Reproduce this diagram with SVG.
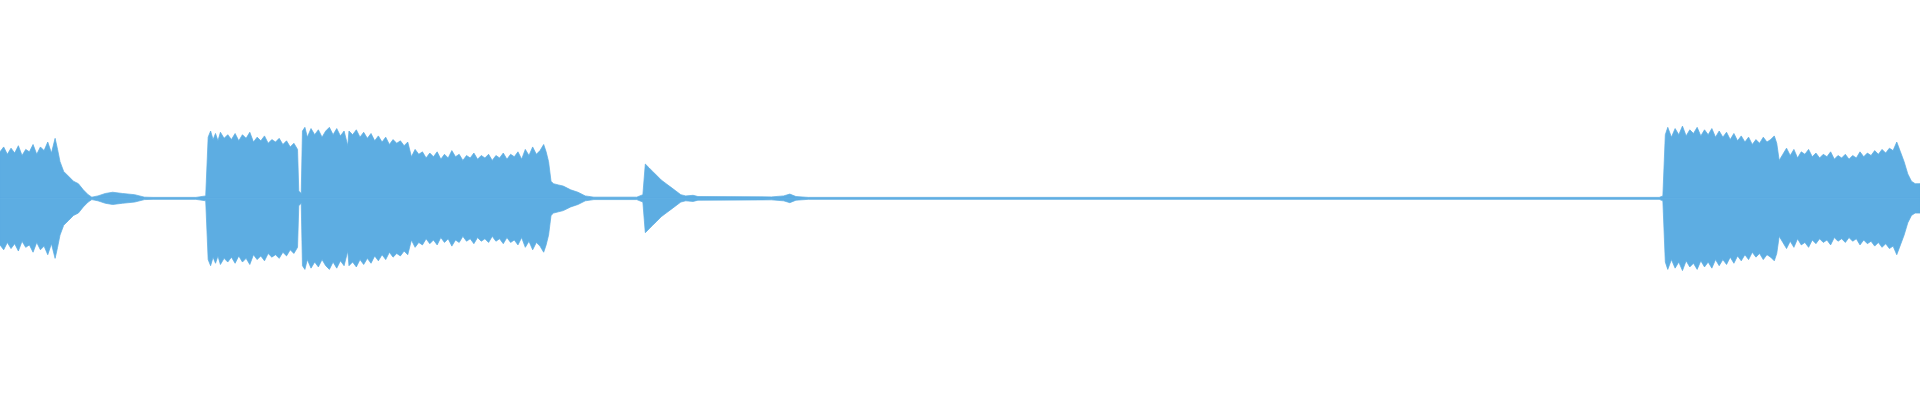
<svg xmlns="http://www.w3.org/2000/svg" width="1920" height="400" viewBox="0 0 1920 400">
<defs>
<style>.w{fill:#5dade2;stroke:#5dade2;stroke-width:0.6}</style>
<path id="top" class="w" d="M0,0 L0,-38 3,-42 6,-36 9,-41 12,-37 15,-43 18,-35 21,-40 24,-38 27,-44 30,-36 33,-42 36,-39 39,-46 42,-37 45,-49 47,-40 49,-30 52,-22 56,-18 60,-14 64,-12 68,-7 72,-3 75,-1 80,-2 86,-4 92,-5 100,-4 110,-3 118,-1 125,-0.8 160,-0.8 168,-2 170,-50 172,-55 174,-48 176,-53 178,-47 180,-54 183,-49 186,-52 189,-48 192,-53 195,-47 198,-52 201,-49 204,-54 207,-46 210,-50 213,-47 216,-51 219,-45 222,-48 225,-46 228,-49 231,-44 234,-47 237,-42 240,-45 243,-40 244,-6 246,-4 247,-55 249,-58 251,-50 254,-57 257,-52 260,-56 263,-50 266,-55 269,-58 272,-52 275,-57 278,-51 281,-55 284,-43 285,-55 288,-52 291,-56 294,-50 297,-54 300,-49 303,-53 306,-47 309,-51 312,-46 315,-50 318,-44 321,-48 324,-45 327,-47 330,-43 333,-46 336,-34 339,-40 342,-36 345,-38 348,-33 351,-37 354,-34 357,-38 360,-32 363,-36 366,-33 369,-39 372,-34 375,-36 378,-31 381,-35 384,-33 387,-37 390,-32 393,-35 396,-33 399,-36 402,-31 405,-35 408,-33 411,-37 414,-32 417,-36 420,-34 423,-38 426,-32 429,-40 432,-35 435,-42 438,-36 441,-39 444,-44 446,-38 448,-30 450,-14 452,-12 456,-11 460,-10 466,-7 472,-5 478,-2 485,-1 520,-1 525,-3 527,-28 530,-25 533,-22 536,-19 540,-15 544,-12 548,-9 552,-6 556,-3 560,-2 566,-2.5 570,-1.5 630,-1.2 640,-2 645,-3.5 650,-1.5 660,-0.8 1355,-0.8 1358,-2 1360,-52 1362,-58 1365,-50 1368,-57 1371,-52 1374,-59 1377,-51 1380,-56 1383,-53 1386,-58 1389,-51 1392,-56 1395,-52 1398,-57 1401,-50 1404,-55 1407,-50 1410,-54 1413,-48 1416,-53 1419,-47 1422,-51 1425,-46 1428,-50 1431,-44 1434,-48 1437,-45 1440,-50 1443,-46 1446,-48 1449,-51 1451,-45 1453,-31 1456,-36 1459,-41 1462,-35 1465,-40 1468,-33 1471,-38 1474,-36 1477,-40 1480,-34 1483,-37 1486,-33 1489,-36 1492,-34 1495,-38 1498,-32 1501,-35 1504,-33 1507,-36 1510,-32 1513,-35 1516,-33 1519,-38 1522,-34 1525,-37 1528,-35 1531,-39 1534,-36 1537,-40 1540,-37 1543,-41 1546,-39 1549,-46 1552,-38 1555,-30 1558,-20 1561,-14 1564,-12 1568,-12 1568,0 Z"/>
</defs>
<rect width="1920" height="400" fill="#ffffff"/>
<g transform="scale(1.2245) translate(0,162)">
<use href="#top"/>
<use href="#top" transform="scale(1,-1)"/>
</g>
</svg>
